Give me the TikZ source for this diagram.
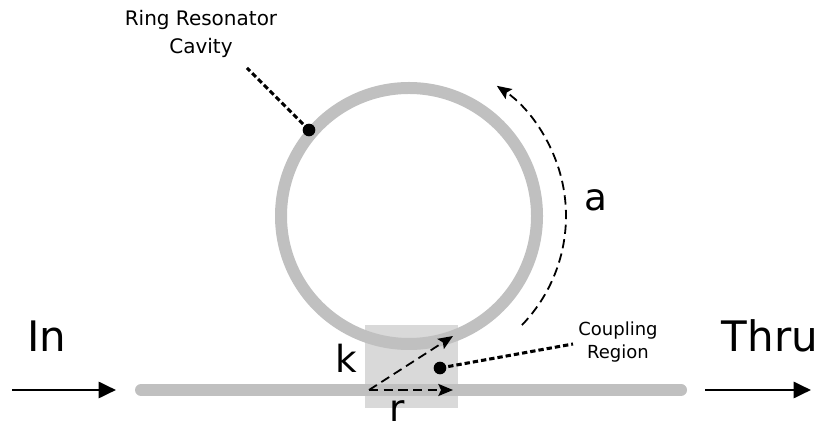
\documentclass[tikz,border=0pt]{standalone}
\usepackage{fontspec}
\setmainfont{DejaVu Sans}
\usetikzlibrary{arrows.meta,calc}
\definecolor{guide}{HTML}{C0C0C0}
\definecolor{boxgray}{HTML}{D9D9D9}
\begin{document}
\begin{tikzpicture}[x=0.75pt,y=0.75pt,
  wg/.style={draw=guide,line width=9pt},
  solidarrow/.style={line width=2.1pt,-{Triangle[length=13pt,width=12pt]}},
  dasharrow/.style={line width=1.35pt,dash pattern=on 7pt off 4pt,-{Stealth[length=11pt,width=9pt,inset=2pt]}},
  dotline/.style={line width=2.3pt,dash pattern=on 4pt off 2.25pt},
  dotmark/.style={circle,fill=black,inner sep=0pt,minimum size=9.5pt},
  smalllabel/.style={font=\fontsize{13.5}{17}\selectfont,align=center},
  biglabel/.style={font=\fontsize{31.5}{38}\selectfont,inner sep=0pt},
  symlabel/.style={font=\fontsize{28}{32}\selectfont,inner sep=0pt}]
\useasboundingbox (0,0) rectangle (820,431);
% coupling region box
\fill[boxgray] (365,23) rectangle (458,106);
% ring and bus waveguide
\coordinate (rc) at (409,215);
\draw[wg] (rc) circle[radius=128];
\draw[wg,line cap=round] (141,41) -- (681,41);
% coupling vectors
\coordinate (o) at (369,41);
\coordinate (kt) at (453,95);
\coordinate (rt) at (453,41);
\draw[dasharrow] (o) -- (kt);
\draw[dasharrow] (o) -- (rt);
\node[symlabel] (k) at (346,73) {k};
\node[symlabel] (r) at (397,20) {r};
% round-trip arrow
\draw[dasharrow] ($(rc)+(-44:157)$) arc[start angle=-44,end angle=56,radius=157];
\node[symlabel] (a) at (596,231) {a};
% labels with pointers
\node[dotmark] (cdot) at (440,63) {};
\node[smalllabel] (clabel) at (618,89) {Coupling\\Region};
\coordinate (cend) at (573,87);
\draw[dotline] (cdot.center) -- (cend);
\node[dotmark] (rdot) at (309,301) {};
\node[smalllabel,font=\fontsize{15}{21}\selectfont] (rlabel) at (201,397) {Ring Resonator\\Cavity};
\coordinate (rend) at (247,363);
\draw[dotline] (rdot.center) -- (rend);
% In / Thru
\node[biglabel] (in) at (47,95) {In};
\node[biglabel] (thru) at (770,95) {Thru};
\coordinate (ins) at (12,41);
\coordinate (ine) at (116,41);
\coordinate (ts) at (705,41);
\coordinate (te) at (811,41);
\draw[solidarrow] (ins) -- (ine);
\draw[solidarrow] (ts) -- (te);
\end{tikzpicture}
\end{document}
